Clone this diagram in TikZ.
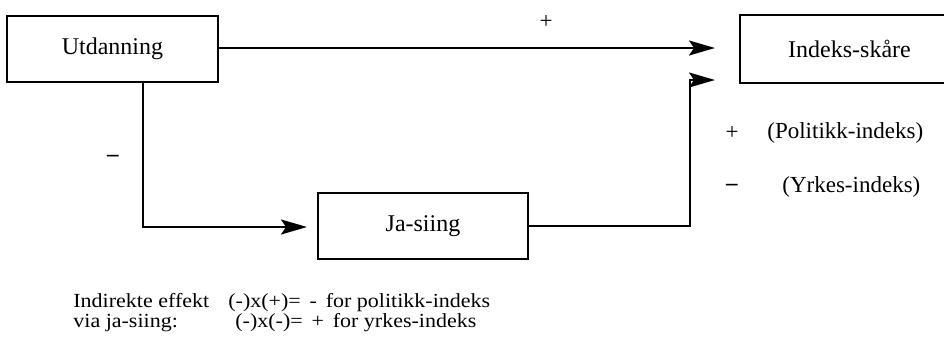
\documentclass[tikz,border=0pt]{standalone}
\usepackage{fontspec}
\setmainfont{Liberation Serif}
\newfontfamily\notefont[FakeStretch=1.1]{Liberation Serif}
\usetikzlibrary{arrows.meta}
\begin{document}
\begin{tikzpicture}[x=0.5pt,y=-0.5pt,
  box/.style={rectangle,draw=black,line width=1pt,inner sep=0pt,font=\fontsize{12}{14}\selectfont},
  conn/.style={line width=1pt},
  arr/.style={conn,-{Stealth[length=13pt,width=7.5pt,inset=2.5pt]}},
  lbl/.style={inner sep=0pt,font=\fontsize{11.5}{13}\selectfont},
  note/.style={inner sep=0pt,anchor=base west,font=\notefont\fontsize{10}{11}\selectfont}]
\useasboundingbox (0,0) rectangle (944,338);
% boxes
\node[box,minimum width=105.5pt,minimum height=33pt] (utd) at (112.5,49) {Utdanning};
\node[box,minimum width=105pt,minimum height=33pt] (ja) at (423,226) {Ja-siing};
\node[box,draw=none,minimum width=101.5pt,minimum height=33pt] (idx) at (842.5,49) {\hspace*{7pt}Indeks-skåre};
\draw[conn] (idx.north east) -- (idx.north west) -- (idx.south west) -- (idx.south east);
% coordinates
\coordinate (t1) at (715,48);
\coordinate (t2) at (715,80);
\coordinate (k2) at (690,80);
\coordinate (k1) at (143,227);
\coordinate (t3) at (307,227);
% connectors
\draw[arr] (utd.east |- t1) -- (t1);
\draw[arr] (utd.south -| k1) -- (k1) -- (t3);
\draw[arr] (ja.east) -| (k2) -- (t2);
% signs
\node[lbl] (plus1) at (546,22) {+};
\node[lbl] (minus1) at (113,158) {\textbf{–}};
\node[lbl] (plus2) at (732,133) {+};
\node[lbl,anchor=west] (pol) at (767,133) {(Politikk-indeks)};
\node[lbl] (minus2) at (732,187) {\textbf{–}};
\node[lbl,anchor=west] (yrk) at (782,187) {(Yrkes-indeks)};
% bottom notes
\node[note] (n1) at (73,307) {Indirekte effekt};
\node[note] (n2) at (228,307) {(-)x(+)= \,-\, for politikk-indeks};
\node[note] (n3) at (73,327) {via ja-siing:};
\node[note] (n4) at (235,327) {(-)x(-)= \,+\, for yrkes-indeks};
\end{tikzpicture}
\end{document}
